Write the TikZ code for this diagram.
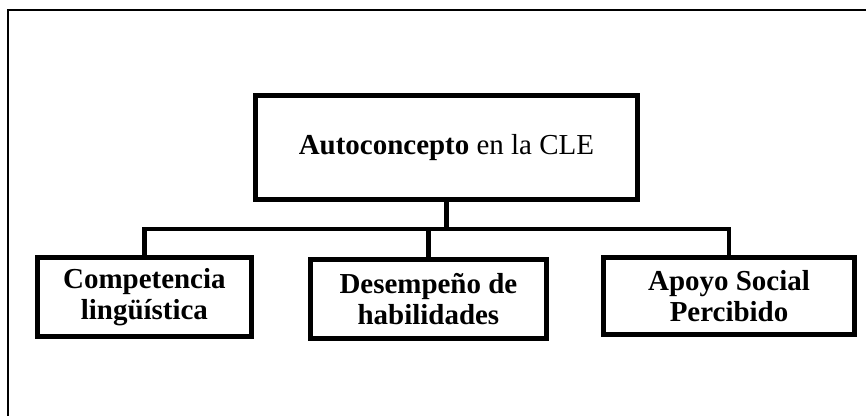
\documentclass[tikz,border=0pt]{standalone}
\usepackage{fontspec}
\setmainfont{Liberation Serif}
\tikzset{
  caja/.style={draw,line width=3.5pt,align=center,inner sep=2pt,
    font=\fontsize{20.6}{22}\selectfont\bfseries},
  rama/.style={line width=3.5pt}
}
\begin{document}
\begin{tikzpicture}
      \useasboundingbox (0,0) rectangle (21.65,-10.4);
      \draw[line width=1.1pt] (0.2,-10.4) -- (0.2,-0.25) -- (21.65,-0.25);
      \node[caja,minimum width=9.55cm,minimum height=2.6cm,font=\fontsize{20.6}{22}\selectfont] (auto) at (11.16,-3.69) {\textbf{Autoconcepto} en la CLE};
      \node[caja,minimum width=5.35cm,minimum height=1.975cm] (comp) at (3.61,-7.425) {Competencia\\ lingüística};
      \node[caja,minimum width=5.9cm,minimum height=1.975cm] (desem) at (10.71,-7.475) {Desempeño de\\ habilidades};
      \node[caja,minimum width=6.275cm,minimum height=1.925cm] (apoyo) at (18.225,-7.4) {Apoyo Social\\ Percibido};
      \coordinate (bar) at (0,-5.725);
      \draw[rama] (auto.south) -- (auto.south |- bar);
      \draw[rama] (comp.north) |- (apoyo.north |- bar) -- (apoyo.north);
      \draw[rama] (desem.north) -- (desem.north |- bar);
    \end{tikzpicture}
\end{document}
